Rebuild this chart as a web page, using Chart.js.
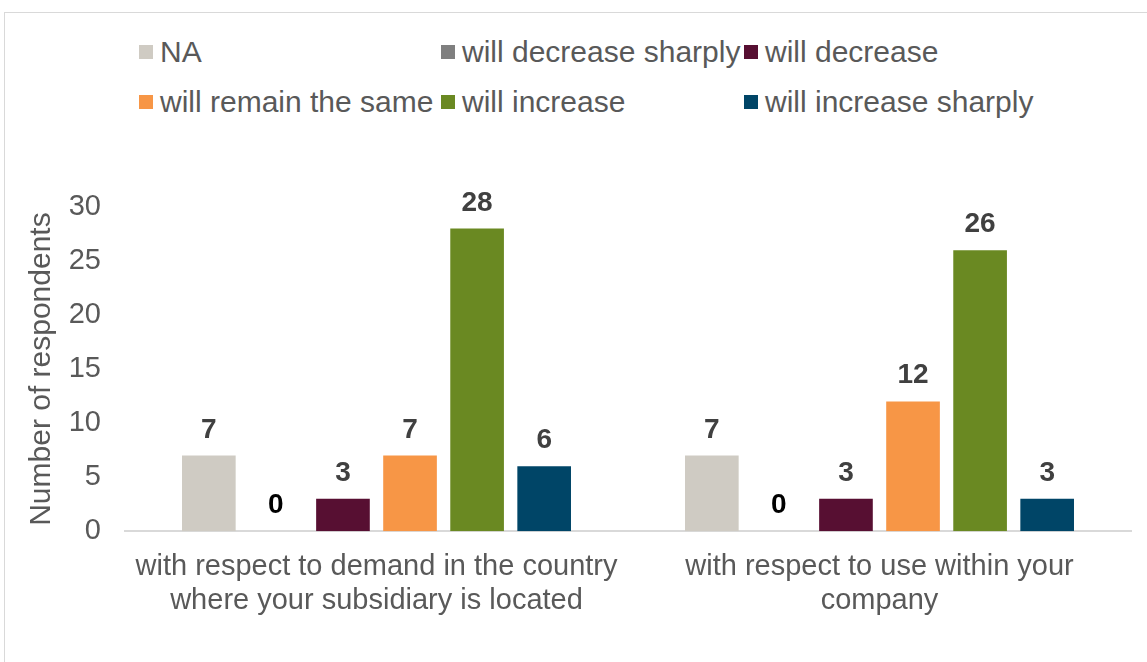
<!DOCTYPE html>
<html>
<head>
<meta charset="utf-8">
<script src="https://cdn.jsdelivr.net/npm/chart.js@4/dist/chart.umd.min.js"></script>
<style>
    body { margin: 0; background: #fff; font-family: "Liberation Sans", Arial, sans-serif; }
    #wrap { position: relative; width: 1147px; height: 662px; overflow: hidden; }
    #frame { position: absolute; left: 4px; top: 12px; width: 1160px; height: 700px; border: 1px solid #d9d9d9; box-sizing: border-box; }
    #legend { position: absolute; left: 0; top: 0; }
    .item { position: absolute; display: flex; align-items: center; height: 36px; font-size: 30px; color: #595959; white-space: nowrap; }
    .box { width: 14px; height: 14px; margin-right: 7px; flex: none; }
    canvas { position: absolute; left: 0; top: 0; }
</style>
</head>
<body>
<div id="wrap">
    <div id="frame"></div>
    <div id="legend"></div>
    <canvas id="chart" width="1147" height="662"></canvas>
</div>
<script>
const categories = [
    ['with respect to demand in the country', 'where your subsidiary is located'],
    ['with respect to use within your', 'company']
];
const seriesNames = ['NA', 'will decrease sharply', 'will decrease', 'will remain the same', 'will increase', 'will increase sharply'];
const naValues = [7, 7];
const decreaseSharplyValues = [0, 0];
const decreaseValues = [3, 3];
const remainValues = [7, 12];
const increaseValues = [28, 26];
const increaseSharplyValues = [6, 3];
const yTicks = [0, 5, 10, 15, 20, 25, 30];

const seriesValues = [naValues, decreaseSharplyValues, decreaseValues, remainValues, increaseValues, increaseSharplyValues];
const colors = ['#cfcbc3', '#7f7f7f', '#570f32', '#f79646', '#6a8922', '#004567'];
const fontFamily = '"Liberation Sans", Arial, sans-serif';

// legend laid out in 3 columns like the original
const legendCols = [139, 441, 744];
const legendRows = [52, 102];
const legend = document.getElementById('legend');
seriesNames.forEach(function(name, i) {
    const item = document.createElement('div');
    item.className = 'item';
    item.style.left = legendCols[i % 3] + 'px';
    item.style.top = (legendRows[Math.floor(i / 3)] - 18) + 'px';
    item.innerHTML = '<span class="box" style="background:' + colors[i] + '"></span>' + name;
    legend.appendChild(item);
});

const barLabels = {
    id: 'barLabels',
    afterDatasetsDraw(chart) {
        const ctx = chart.ctx;
        ctx.save();
        ctx.font = 'bold 28px ' + fontFamily;
        ctx.textAlign = 'center';
        ctx.textBaseline = 'alphabetic';
        chart.data.datasets.forEach(function(ds, di) {
            chart.getDatasetMeta(di).data.forEach(function(bar, j) {
                const v = ds.data[j];
                ctx.fillStyle = v === 0 ? '#000000' : '#404040';
                ctx.fillText(v, bar.x, bar.y - 18);
            });
        });
        ctx.restore();
    }
};

new Chart(document.getElementById('chart').getContext('2d'), {
    type: 'bar',
    data: {
        labels: categories,
        datasets: seriesNames.map(function(name, i) {
            return {
                label: name,
                data: seriesValues[i],
                backgroundColor: colors[i],
                categoryPercentage: 0.8,
                barPercentage: 0.8
            };
        })
    },
    options: {
        responsive: false,
        animation: false,
        layout: { padding: { left: 24, right: 16, top: 207, bottom: 25 } },
        plugins: {
            legend: { display: false },
            tooltip: { enabled: false }
        },
        scales: {
            x: {
                grid: { display: false, drawTicks: false },
                border: { color: '#d9d9d9', width: 2 },
                ticks: {
                    color: '#595959',
                    padding: 19,
                    maxRotation: 0,
                    font: { size: 29, family: fontFamily, lineHeight: 1.17 }
                }
            },
            y: {
                min: 0,
                max: 30,
                afterBuildTicks: function(axis) {
                    axis.ticks = yTicks.map(function(v) { return { value: v }; });
                },
                afterFit: function(axis) {
                    axis.width = 101;
                },
                grid: { display: false, drawTicks: false },
                border: { display: false },
                title: {
                    display: true,
                    text: 'Number of respondents',
                    color: '#595959',
                    padding: { top: 0, bottom: 0 },
                    font: { size: 30, family: fontFamily }
                },
                ticks: {
                    color: '#595959',
                    padding: 24,
                    font: { size: 29, family: fontFamily }
                }
            }
        }
    },
    plugins: [barLabels]
});
</script>
</body>
</html>
